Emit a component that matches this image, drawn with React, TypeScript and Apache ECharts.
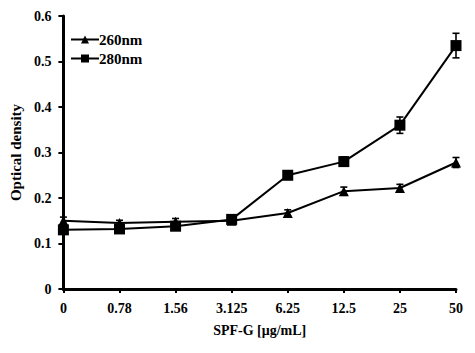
import React, { useEffect, useRef } from "react";
import * as echarts from "echarts";

const categories = ["0", "0.78", "1.56", "3.125", "6.25", "12.5", "25", "50"];
const od260 = [0.15, 0.145, 0.148, 0.15, 0.167, 0.215, 0.222, 0.278];
const err260 = [0.008, 0.006, 0.007, 0.006, 0.007, 0.009, 0.008, 0.011];
const od280 = [0.13, 0.132, 0.138, 0.153, 0.25, 0.28, 0.36, 0.535];
const err280 = [0.006, 0.006, 0.007, 0.007, 0.009, 0.01, 0.018, 0.027];
const yTicks = [0, 0.1, 0.2, 0.3, 0.4, 0.5, 0.6];

const FONT = "'Liberation Serif', 'Times New Roman', serif";

function errorSeries(values: number[], errs: number[]) {
  return {
    type: "custom",
    silent: true,
    z: 1,
    data: values.map((v, i) => [i, v - errs[i], v + errs[i]]),
    renderItem: (params: any, api: any) => {
      const x = api.value(0);
      const lo = api.coord([x, api.value(1)]);
      const hi = api.coord([x, api.value(2)]);
      const cap = 3.5;
      const style = { stroke: "#000", lineWidth: 1.6 };
      return {
        type: "group",
        children: [
          { type: "line", shape: { x1: lo[0], y1: lo[1], x2: hi[0], y2: hi[1] }, style },
          { type: "line", shape: { x1: lo[0] - cap, y1: lo[1], x2: lo[0] + cap, y2: lo[1] }, style },
          { type: "line", shape: { x1: hi[0] - cap, y1: hi[1], x2: hi[0] + cap, y2: hi[1] }, style },
        ],
      };
    },
  };
}

export default function App() {
  const ref = useRef<HTMLDivElement>(null);
  useEffect(() => {
    if (!ref.current) return;
    const chart = echarts.init(ref.current, null, { renderer: "svg" });
    chart.setOption({
      animation: false,
      backgroundColor: "#fff",
      textStyle: { fontFamily: FONT },
      grid: { left: 61, right: 19, top: 16, bottom: 64 },
      legend: {
        orient: "vertical",
        left: 68,
        top: 30,
        padding: [2, 2, 2, 2],
        itemGap: 4,
        itemWidth: 28,
        itemHeight: 10,
        data: ["260nm", "280nm"],
        textStyle: { fontFamily: FONT, fontWeight: "bold", fontSize: 15, color: "#000", padding: [0, 0, 0, -5] },
      },
      xAxis: {
        type: "category",
        data: categories,
        boundaryGap: false,
        name: "SPF-G [μg/mL]",
        nameLocation: "middle",
        nameGap: 34,
        nameTextStyle: { fontFamily: FONT, fontWeight: "bold", fontSize: 14, color: "#000" },
        axisLine: { lineStyle: { color: "#000", width: 3 } },
        axisTick: { show: true, length: 4, lineStyle: { color: "#000", width: 2 } },
        axisLabel: { fontFamily: FONT, fontWeight: "bold", fontSize: 14, color: "#000", margin: 12 },
        splitLine: { show: false },
      },
      yAxis: {
        type: "value",
        min: 0,
        max: 0.6,
        interval: 0.1,
        name: "Optical density",
        nameLocation: "middle",
        nameGap: 37,
        nameTextStyle: { fontFamily: FONT, fontWeight: "bold", fontSize: 15, color: "#000" },
        axisLine: { show: true, lineStyle: { color: "#000", width: 3 } },
        axisTick: { show: true, length: 5, lineStyle: { color: "#000", width: 2 } },
        axisLabel: {
          fontFamily: FONT,
          fontWeight: "bold",
          fontSize: 14,
          color: "#000",
          margin: 12,
          formatter: (v: number) => {
            const t = yTicks.find((x) => Math.abs(x - v) < 1e-9);
            return t === undefined ? "" : t === 0 ? "0" : String(Math.round(t * 10) / 10);
          },
        },
        splitLine: { show: false },
      },
      series: [
        {
          name: "260nm",
          type: "line",
          data: od260,
          symbol: "triangle",
          symbolSize: 10,
          color: "#000",
          lineStyle: { color: "#000", width: 2 },
          itemStyle: { color: "#000" },
          z: 3,
        },
        {
          name: "280nm",
          type: "line",
          data: od280,
          symbol: "rect",
          symbolSize: 11,
          color: "#000",
          lineStyle: { color: "#000", width: 2 },
          itemStyle: { color: "#000" },
          z: 3,
        },
        errorSeries(od260, err260),
        errorSeries(od280, err280),
      ],
    });
    return () => chart.dispose();
  }, []);
  return <div ref={ref} style={{ width: 475, height: 353, position: "absolute", left: 0, top: 0 }} />;
}
